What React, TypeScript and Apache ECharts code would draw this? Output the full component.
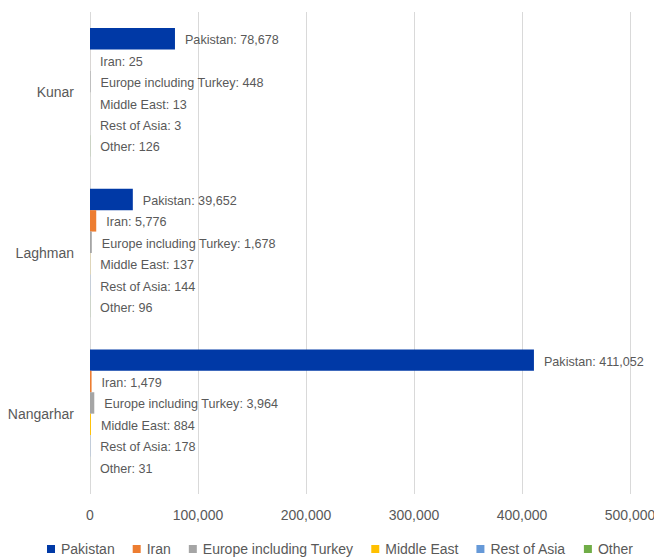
import React, { useEffect, useRef } from "react";
import * as echarts from "echarts";

const categories = ["Kunar", "Laghman", "Nangarhar"];
const seriesNames = ["Pakistan", "Iran", "Europe including Turkey", "Middle East", "Rest of Asia", "Other"];
const pakistan = [78678, 39652, 411052];
const iran = [25, 5776, 1479];
const europe = [448, 1678, 3964];
const middleEast = [13, 137, 884];
const restOfAsia = [3, 144, 178];
const other = [126, 96, 31];
const xTicks = [0, 100000, 200000, 300000, 400000, 500000];

const colors = ["#0039A6", "#ED7D31", "#A5A5A5", "#FFC000", "#6699D8", "#70AD47"];
const FONT = "'Liberation Sans', Arial, sans-serif";
const TEXT = "#595959";

const fmt = (v: number) => v.toLocaleString("en-US");

export default function App() {
  const ref = useRef<HTMLDivElement>(null);
  useEffect(() => {
    if (!ref.current) return;
    const chart = echarts.init(ref.current, undefined, { renderer: "svg" });
    const values = [pakistan, iran, europe, middleEast, restOfAsia, other];
    chart.setOption({
      animation: false,
      color: colors,
      textStyle: { fontFamily: FONT },
      grid: { left: 90, right: 24, top: 12, bottom: 65, containLabel: false, outerBoundsMode: "none" },
      legend: {
        data: seriesNames,
        top: 542,
        left: 47,
        padding: 0,
        icon: "rect",
        itemWidth: 8,
        itemHeight: 8,
        itemGap: 18,
        textStyle: { color: TEXT, fontSize: 14, fontFamily: FONT, padding: [0, 0, 0, 1] },
      },
      xAxis: {
        type: "value",
        min: xTicks[0],
        max: xTicks[xTicks.length - 1],
        interval: xTicks[1] - xTicks[0],
        axisLine: { show: false },
        axisTick: { show: false },
        splitLine: { show: true, lineStyle: { color: "#D9D9D9", width: 1 } },
        axisLabel: { color: TEXT, fontSize: 14, fontFamily: FONT, margin: 14, formatter: (v: number) => fmt(v) },
      },
      yAxis: {
        type: "category",
        data: categories,
        inverse: true,
        axisLine: { show: false },
        axisTick: { show: false },
        splitLine: { show: false },
        axisLabel: { color: TEXT, fontSize: 14, fontFamily: FONT, margin: 16 },
      },
      series: seriesNames.map((name, i) => ({
        name,
        type: "bar",
        data: values[i],
        barGap: "0%",
        barCategoryGap: "20%",
        label: {
          show: true,
          position: "right",
          distance: 10,
          offset: [0, 1.5],
          color: TEXT,
          fontSize: 12.6,
          fontFamily: FONT,
          formatter: (p: any) => `${p.seriesName}: ${fmt(p.value)}`,
        },
      })),
    });
    return () => chart.dispose();
  }, []);
  return (
    <div
      ref={ref}
      style={{ position: "fixed", left: 0, top: 0, width: 654, height: 559, background: "#fff" }}
    />
  );
}
